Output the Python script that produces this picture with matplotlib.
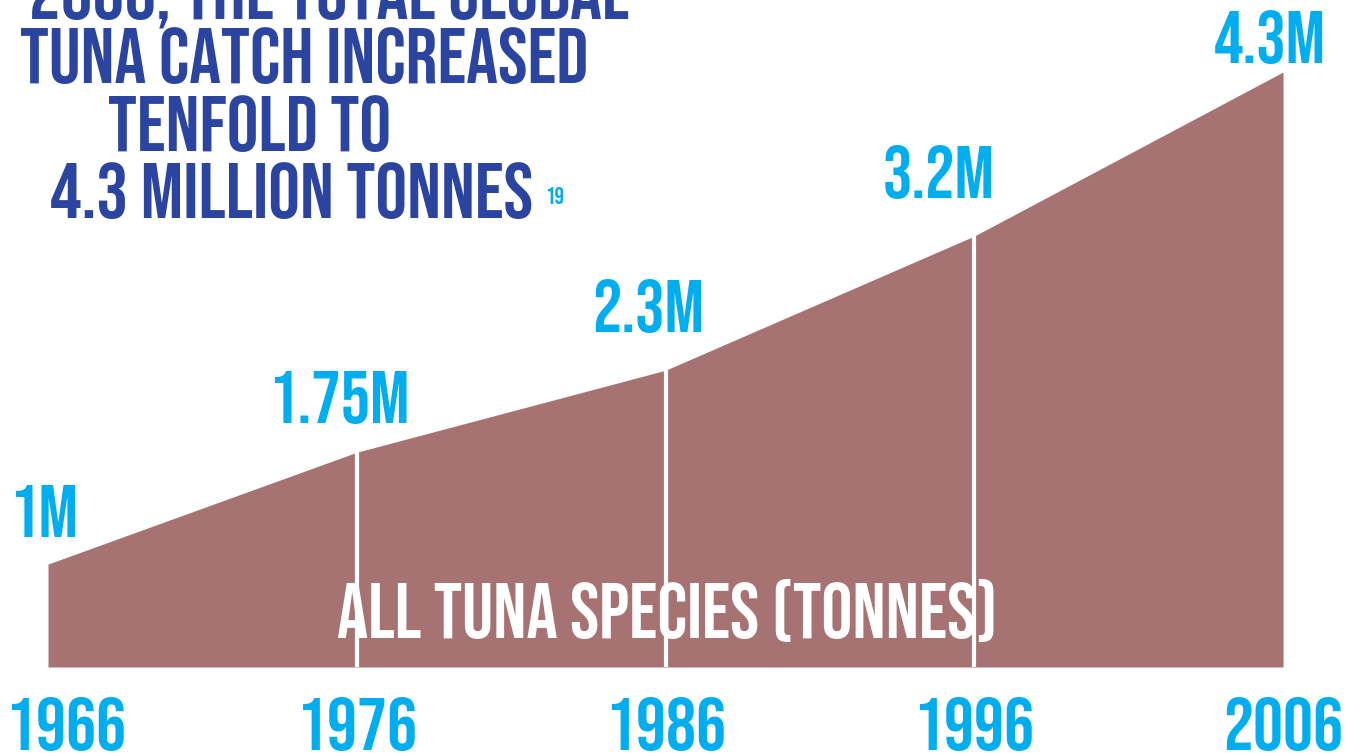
import matplotlib
matplotlib.use("Agg")
import matplotlib.pyplot as plt
from matplotlib.transforms import blended_transform_factory, offset_copy

# tuna catch, million tonnes
years = [1966, 1976, 1986, 1996, 2006]
catch = [1.0, 1.75, 2.3, 3.2, 4.3]
value_labels = ["1M", "1.75M", "2.3M", "3.2M", "4.3M"]
title_lines = ["2006, THE TOTAL GLOBAL", "TUNA CATCH INCREASED", "TENFOLD TO", "4.3 MILLION TONNES"]
area_label = "ALL TUNA SPECIES (TONNES)"
footnote = "19"

FILL = "#a77272"
CYAN = "#00aeef"
BLUE = "#2a44a0"
FONT = ["Bebas Neue", "Oswald", "Anton", "DejaVu Sans"]
BASE = 0.31

fig = plt.figure(figsize=(13.59, 7.53), dpi=100)
ax = fig.add_axes([0, 0, 1, 1])
ax.set_xlim(1964.445, 2008.46)
ax.set_ylim(-0.267, 4.783)
ax.axis("off")

ax.fill_between(years, catch, BASE, color=FILL, lw=0, zorder=1)
ax.text(0.491, 1 - 611 / 753, area_label, transform=ax.transAxes, ha="center",
        va="center", color="white", fontsize=56, family=FONT, zorder=2)
for y, v in zip(years[1:-1], catch[1:-1]):
    ax.plot([y, y], [BASE, v], color="white", lw=3, solid_capstyle="butt", zorder=3)

# value labels above each point (px offsets)
dx = [-4, -18, -17, -36, -13]
dy = [53, 55, 64, 64, 35]
for y, v, lab, ox, oy in zip(years, catch, value_labels, dx, dy):
    tr = offset_copy(ax.transData, fig=fig, x=ox, y=oy, units="dots")
    ax.text(y, v, lab, transform=tr, ha="center", va="center", color=CYAN,
            fontsize=53, family=FONT)

# year labels along the bottom
bt = blended_transform_factory(ax.transData, fig.transFigure)
for i, y in enumerate(years):
    tr = offset_copy(bt, fig=fig, x=18 if i == 0 else 0, y=0, units="dots")
    ax.text(y, 1 - 724 / 753, str(y), transform=tr, ha="center", va="center",
            color=CYAN, fontsize=54, family=FONT)

# title block, top left, partially cut off
title_x = [329, 304, 250, 292]
title_y = [-5, 56, 124, 191]
for s, x, y in zip(title_lines, title_x, title_y):
    fig.text(x / 1359, 1 - y / 753, s, ha="center", va="center", color=BLUE,
             fontsize=57, family=FONT)
fig.text(545 / 1359, 1 - 195 / 753, footnote, ha="left", va="center", color=CYAN,
         fontsize=17, family=FONT)

fig.savefig("out.png", dpi=100)
